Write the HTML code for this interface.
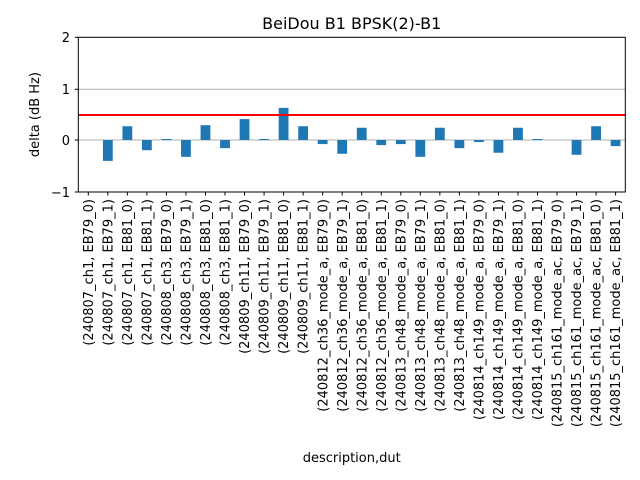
<!DOCTYPE html>
<html><head><meta charset="utf-8"><style>body{margin:0;background:#fff}svg{display:block}text{font-family:"DejaVu Sans","Liberation Sans",sans-serif;fill:#000}</style></head><body>
<svg width="640" height="480" viewBox="0 0 640 480" xmlns="http://www.w3.org/2000/svg">
<rect width="640" height="480" fill="#fff"/>
<text x="351.7" y="29" font-size="16" text-anchor="middle">BeiDou B1 BPSK(2)-B1</text>
<line x1="78.3" x2="625.3" y1="89.3" y2="89.3" stroke="#b0b0b0" stroke-width="1"/>
<line x1="78.3" x2="625.3" y1="140" y2="140" stroke="#b0b0b0" stroke-width="1"/>
<g id="bars" fill="#1f77b4"></g>
<line x1="78.3" x2="625.3" y1="115" y2="115" stroke="#ff0000" stroke-width="2"/>
<rect x="78.3" y="37.3" width="547" height="154.7" fill="none" stroke="#000" stroke-width="1"/>
<g font-size="13" text-anchor="end">
<line x1="74.8" x2="78.3" y1="37.3" y2="37.3" stroke="#000"/><text x="70" y="42">2</text>
<line x1="74.8" x2="78.3" y1="89.3" y2="89.3" stroke="#000"/><text x="70" y="94">1</text>
<line x1="74.8" x2="78.3" y1="140" y2="140" stroke="#000"/><text x="70" y="145">0</text>
<line x1="74.8" x2="78.3" y1="192" y2="192" stroke="#000"/><text x="70" y="197">−1</text>
</g>
<text transform="translate(39,114.6) rotate(-90)" font-size="13" text-anchor="middle">delta (dB Hz)</text>
<g id="xt" font-size="13" text-anchor="end"></g>
<text x="351.7" y="462" font-size="13" text-anchor="middle">description,dut</text>
<script>
var v=[0,-0.41,0.27,-0.2,0.02,-0.33,0.29,-0.16,0.41,0.02,0.63,0.27,-0.08,-0.27,0.24,-0.1,-0.08,-0.33,0.24,-0.16,-0.04,-0.25,0.24,0.02,0,-0.29,0.27,-0.12];
var l=["(240807_ch1, EB79_0)","(240807_ch1, EB79_1)","(240807_ch1, EB81_0)","(240807_ch1, EB81_1)","(240808_ch3, EB79_0)","(240808_ch3, EB79_1)","(240808_ch3, EB81_0)","(240808_ch3, EB81_1)","(240809_ch11, EB79_0)","(240809_ch11, EB79_1)","(240809_ch11, EB81_0)","(240809_ch11, EB81_1)","(240812_ch36_mode_a, EB79_0)","(240812_ch36_mode_a, EB79_1)","(240812_ch36_mode_a, EB81_0)","(240812_ch36_mode_a, EB81_1)","(240813_ch48_mode_a, EB79_0)","(240813_ch48_mode_a, EB79_1)","(240813_ch48_mode_a, EB81_0)","(240813_ch48_mode_a, EB81_1)","(240814_ch149_mode_a, EB79_0)","(240814_ch149_mode_a, EB79_1)","(240814_ch149_mode_a, EB81_0)","(240814_ch149_mode_a, EB81_1)","(240815_ch161_mode_ac, EB79_0)","(240815_ch161_mode_ac, EB79_1)","(240815_ch161_mode_ac, EB81_0)","(240815_ch161_mode_ac, EB81_1)"];
var ns="http://www.w3.org/2000/svg",b=document.getElementById("bars"),t=document.getElementById("xt"),s=document.querySelector("svg");
for(var i=0;i<28;i++){var x=88.3+i*19.53,h=v[i]*51;
var r=document.createElementNS(ns,"rect");r.setAttribute("x",x-4.9);r.setAttribute("width",9.8);r.setAttribute("y",h>0?140-h:140);r.setAttribute("height",Math.abs(h));b.appendChild(r);
var k=document.createElementNS(ns,"line");k.setAttribute("x1",x);k.setAttribute("x2",x);k.setAttribute("y1",192);k.setAttribute("y2",195.5);k.setAttribute("stroke","#000");s.appendChild(k);
var tx=document.createElementNS(ns,"text");tx.setAttribute("transform","translate("+(x+4.6)+",199) rotate(-90)");tx.textContent=l[i];t.appendChild(tx);}
</script>
</svg>
</body></html>
